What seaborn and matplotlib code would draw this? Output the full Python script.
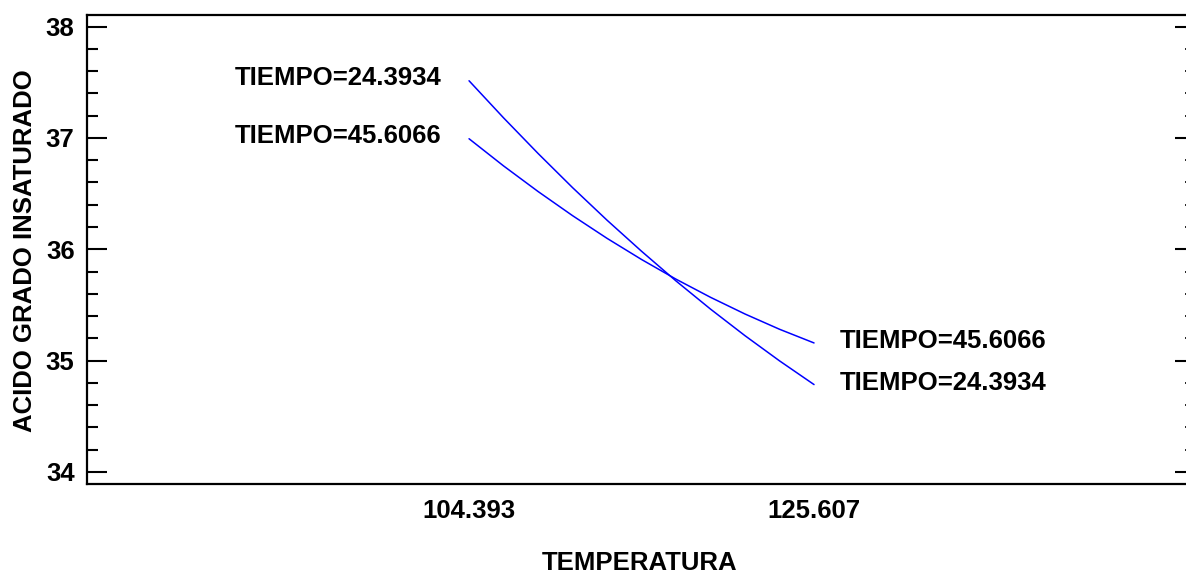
import numpy as np
import pandas as pd
import matplotlib
matplotlib.use("Agg")
import matplotlib.pyplot as plt
from matplotlib.ticker import MultipleLocator
import seaborn as sns

# ---- data ----
temperatura = [104.393, 106.514, 108.636, 110.757, 112.879, 115.000,
               117.121, 119.243, 121.364, 123.486, 125.607]
acido_t24 = [37.514, 37.181, 36.861, 36.554, 36.261, 35.982,
             35.715, 35.462, 35.223, 34.997, 34.784]
acido_t45 = [36.993, 36.749, 36.519, 36.302, 36.098, 35.908,
             35.731, 35.568, 35.418, 35.281, 35.158]
tiempo_labels = ["TIEMPO=24.3934", "TIEMPO=45.6066"]
x_ticks = [104.393, 125.607]
x_tick_labels = ["104.393", "125.607"]
y_ticks = [34, 35, 36, 37, 38]

df = pd.DataFrame({
    "TEMPERATURA": temperatura * 2,
    "ACIDO": acido_t24 + acido_t45,
    "TIEMPO": [tiempo_labels[0]] * len(temperatura) + [tiempo_labels[1]] * len(temperatura),
})

sns.set_style("white")
plt.rcParams["font.family"] = ["Liberation Sans", "DejaVu Sans"]
plt.rcParams["font.weight"] = "bold"
plt.rcParams["text.color"] = "black"
plt.rcParams["axes.labelcolor"] = "black"
plt.rcParams["xtick.color"] = "black"
plt.rcParams["ytick.color"] = "black"
plt.rcParams["xtick.labelcolor"] = "black"
plt.rcParams["ytick.labelcolor"] = "black"

W, H = 1186, 574
fig = plt.figure(figsize=(W / 100, H / 100), dpi=100)
left, right, top, bottom = 87, 1186, 15, 483.5
ax = fig.add_axes([left / W, 1 - bottom / H, (right - left) / W, (bottom - top) / H])

sns.lineplot(data=df, x="TEMPERATURA", y="ACIDO", hue="TIEMPO",
             palette=["#0000ff", "#0000ff"], estimator=None, legend=False,
             linewidth=1.1, ax=ax)

ax.set_xlim(80.9, 148.48)
ax.set_ylim(33.895, 38.105)

# labels at line ends
for lab, ys in zip(tiempo_labels, [acido_t24, acido_t45]):
    ax.annotate(lab, xy=(temperatura[0], ys[0]), xytext=(-28, 3),
                textcoords="offset pixels", ha="right", va="center",
                fontsize=18.5, fontweight="bold", color="black")
    ax.annotate(lab, xy=(temperatura[-1], ys[-1]), xytext=(26, 2),
                textcoords="offset pixels", ha="left", va="center",
                fontsize=18.5, fontweight="bold", color="black")

# axes styling
for side in ["left", "bottom", "top"]:
    ax.spines[side].set_visible(True)
    ax.spines[side].set_linewidth(1.6)
    ax.spines[side].set_color("black")
ax.spines["right"].set_visible(False)

ax.set_xticks(x_ticks)
ax.set_xticklabels(x_tick_labels)
ax.tick_params(axis="x", length=0, pad=11, labelsize=18.5, labelcolor="black")
ax.set_yticks(y_ticks)
ax.yaxis.set_minor_locator(MultipleLocator(0.2))
ax.tick_params(axis="y", which="major", direction="in", length=14.4, width=1.5,
               pad=9, labelsize=18.5, left=True, right=False,
               color="black", labelcolor="black")
ax.tick_params(axis="y", which="minor", direction="in", length=7.9, width=1.5,
               left=True, right=False, color="black")
for t in ax.get_xticklabels() + ax.get_yticklabels():
    t.set_fontweight("bold")

# right-side ticks (shorter)
ax2 = ax.twinx()
ax2.set_ylim(ax.get_ylim())
ax2.set_yticks(y_ticks)
ax2.yaxis.set_minor_locator(MultipleLocator(0.2))
ax2.tick_params(axis="y", which="major", direction="in", length=7.9, width=1.5,
                labelright=False, color="black")
ax2.tick_params(axis="y", which="minor", direction="in", length=1.0, width=1.2,
                color="black")
for s in ax2.spines.values():
    s.set_visible(False)
ax2.set_ylabel("")

ax.set_xlabel("TEMPERATURA", fontsize=18.5, fontweight="bold", color="black")
ax.xaxis.set_label_coords(0.503, -0.17)
ax.xaxis.label.set_va("center")
ax.set_ylabel("ACIDO GRADO INSATURADO", fontsize=18.5, fontweight="bold", color="black")
ax.yaxis.set_label_coords(-0.056, 0.496)
ax.yaxis.label.set_va("center")

fig.savefig("out.png", dpi=100)
